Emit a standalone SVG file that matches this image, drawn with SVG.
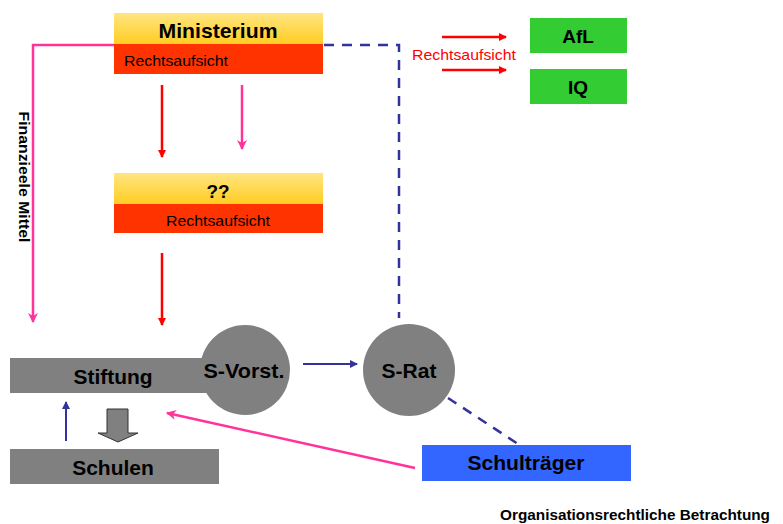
<svg xmlns="http://www.w3.org/2000/svg" width="783" height="524" viewBox="0 0 783 524">
<defs>
<linearGradient id="yel" x1="0" y1="0" x2="0" y2="1">
<stop offset="0" stop-color="#FFE682"/>
<stop offset="1" stop-color="#FFCC22"/>
</linearGradient>
<marker id="aRed" markerWidth="8" markerHeight="8" refX="7" refY="4" orient="auto" markerUnits="userSpaceOnUse"><path d="M0,0 L8,4 L0,8 Z" fill="#FF0000"/></marker>
<marker id="aPink" markerWidth="10" markerHeight="10" refX="9" refY="5" orient="auto" markerUnits="userSpaceOnUse"><path d="M0,0 L10,5 L0,10 L3,5 Z" fill="#FF3399"/></marker>
<marker id="aBlue" markerWidth="8" markerHeight="8" refX="7" refY="4" orient="auto" markerUnits="userSpaceOnUse"><path d="M0,0 L8,4 L0,8 Z" fill="#333399"/></marker>
</defs>
<style>
text{font-family:"Liberation Sans",Arial,sans-serif;}
.b{font-weight:bold;fill:#000;}
.red{stroke:#FF0000;stroke-width:2.5;fill:none;}
.pink{stroke:#FF3399;stroke-width:2.5;fill:none;}
.blue{stroke:#333399;stroke-width:2;fill:none;}
.dash{stroke:#333399;stroke-width:2.5;fill:none;stroke-dasharray:10 8;}
.gray{fill:#808080;}
</style>
<rect width="783" height="524" fill="#fff"/>
<g id="connectors">
<path class="pink" d="M114,45 H33 V322" marker-end="url(#aPink)"/>
<path class="dash" d="M324,45 H399 V318"/>
<path class="dash" d="M448,398 L518,444"/>
<path class="red" d="M162,85 V157" marker-end="url(#aRed)"/>
<path class="pink" d="M242,85 V149" marker-end="url(#aPink)"/>
<path class="red" d="M162,253 V325" marker-end="url(#aRed)"/>
<path class="red" d="M442,37 H506" marker-end="url(#aRed)"/>
<path class="red" d="M442,70 H506" marker-end="url(#aRed)"/>
<path class="blue" d="M303,364 H357" marker-end="url(#aBlue)"/>
<path class="blue" d="M66,441 V402" marker-end="url(#aBlue)"/>
<path class="pink" d="M415,468 L167,413" marker-end="url(#aPink)"/>
<path d="M107,409 H128 V433 H138 L118,442 L98,433 H107 Z" fill="#808080" stroke="#333" stroke-width="1"/>
</g>
<text x="24" y="177" class="b" font-size="15" text-anchor="middle" textLength="131" lengthAdjust="spacingAndGlyphs" transform="rotate(90 24 177)" dominant-baseline="central">Finanzieele Mittel</text>
<text x="464" y="60" font-size="15" fill="#FF0000" text-anchor="middle" textLength="104" lengthAdjust="spacingAndGlyphs">Rechtsaufsicht</text>
<g id="ministerium">
<rect x="114" y="13" width="209" height="31" fill="url(#yel)"/>
<rect x="114" y="44" width="209" height="30" fill="#FF3300"/>
<text x="218" y="38" class="b" font-size="21" text-anchor="middle" textLength="119" lengthAdjust="spacingAndGlyphs">Ministerium</text>
<text x="124" y="66" font-size="15" fill="#000" textLength="104" lengthAdjust="spacingAndGlyphs">Rechtsaufsicht</text>
</g>
<g id="fragezeichen">
<rect x="114" y="173" width="209" height="31" fill="url(#yel)"/>
<rect x="114" y="204" width="209" height="29" fill="#FF3300"/>
<text x="218" y="198" class="b" font-size="19" text-anchor="middle">??</text>
<text x="218" y="226" font-size="15" fill="#000" text-anchor="middle" textLength="104" lengthAdjust="spacingAndGlyphs">Rechtsaufsicht</text>
</g>
<g id="afl">
<rect x="530" y="18" width="97" height="35" fill="#33CC33"/>
<text x="578" y="43" class="b" font-size="19" text-anchor="middle">AfL</text>
</g>
<g id="iq">
<rect x="530" y="69" width="97" height="35" fill="#33CC33"/>
<text x="578" y="94" class="b" font-size="19" text-anchor="middle">IQ</text>
</g>
<g id="stiftung">
<rect x="10" y="358" width="205" height="35" class="gray"/>
<text x="113" y="384" class="b" font-size="21" text-anchor="middle" textLength="79" lengthAdjust="spacingAndGlyphs">Stiftung</text>
</g>
<g id="s-vorst">
<circle cx="245" cy="370" r="45" class="gray"/>
<text x="244" y="378" class="b" font-size="21" text-anchor="middle" textLength="81" lengthAdjust="spacingAndGlyphs">S-Vorst.</text>
</g>
<g id="s-rat">
<circle cx="409" cy="370" r="46" class="gray"/>
<text x="409" y="378" class="b" font-size="21" text-anchor="middle">S-Rat</text>
</g>
<g id="schulen">
<rect x="10" y="449" width="209" height="35" class="gray"/>
<text x="113" y="475" class="b" font-size="21" text-anchor="middle">Schulen</text>
</g>
<g id="schultraeger">
<rect x="422" y="445" width="209" height="36" fill="#3366FF"/>
<text x="526" y="470" class="b" font-size="21" text-anchor="middle" textLength="117" lengthAdjust="spacingAndGlyphs">Schulträger</text>
</g>
<text x="770" y="520" class="b" font-size="15" text-anchor="end" textLength="270" lengthAdjust="spacingAndGlyphs">Organisationsrechtliche Betrachtung</text>
</svg>
